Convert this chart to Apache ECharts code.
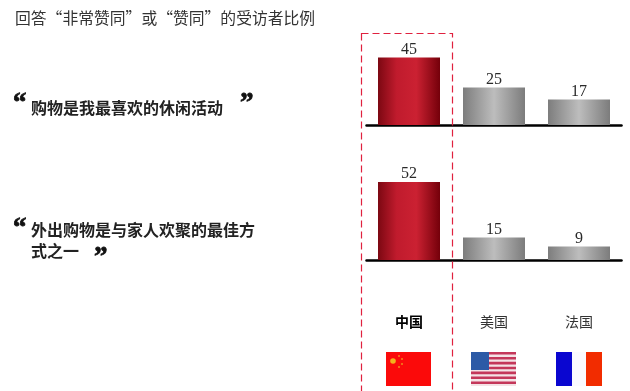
<!DOCTYPE html>
<html>
<head>
<meta charset="utf-8">
<style>html,body{margin:0;padding:0;background:#fff}#chart{width:630px;height:391px}</style>
<script src="https://cdn.jsdelivr.net/npm/echarts@6/dist/echarts.min.js"></script>
</head>
<body>
<div id="chart"></div>
<script>
// Survey answers by country, in percent
const countries = ['中国', '美国', '法国'];
const shoppingFavourite = [45, 25, 17];
const shoppingWithFamily = [52, 15, 9];

const titleText = '回答“非常赞同”或“赞同”的受访者比例';
const statementOne = '购物是我最喜欢的休闲活动';
const statementTwoLines = ['外出购物是与家人欢聚的最佳方', '式之一'];

const CJK = '"Noto Sans CJK SC", sans-serif';
const SERIF = '"Liberation Serif", serif';

const gradient = stops => new echarts.graphic.LinearGradient(0, 0, 1, 0,
  stops.map(([offset, color]) => ({ offset, color })));
const redFill = () => gradient([[0, '#7c0812'], [0.3, '#c01b2d'], [0.62, '#cb2132'], [1, '#74000a']]);
const greyFill = () => gradient([[0, '#7d7d7d'], [0.5, '#bdbdbd'], [1, '#7c7c7c']]);

const barData = values => values.map((value, i) => ({
  value,
  itemStyle: { color: i === 0 ? redFill() : greyFill() }
}));

const grids = [
  { left: 366.5, width: 255, top: 35, height: 90 },
  { left: 366.5, width: 255, top: 170, height: 90 }
];

const xAxis = [0, 1].map(gridIndex => ({
  type: 'category',
  gridIndex,
  data: countries.map((value, i) => ({
    value,
    textStyle: i === 0 ? { fontWeight: 'bold', color: '#000' } : { fontWeight: 'normal', color: '#333' }
  })),
  axisTick: { show: false },
  axisLine: { lineStyle: { color: '#000', width: 2.5 } },
  axisLabel: { show: gridIndex === 1, margin: 55, fontFamily: CJK, fontSize: 14 }
}));

const yAxis = [0, 1].map(gridIndex => ({
  type: 'value', gridIndex, min: 0, max: 60, show: false
}));

const series = [shoppingFavourite, shoppingWithFamily].map((values, i) => ({
  type: 'bar',
  xAxisIndex: i,
  yAxisIndex: i,
  barWidth: 62,
  silent: true,
  data: barData(values),
  label: {
    show: true, position: 'top', distance: 0,
    fontFamily: SERIF, fontSize: 16, color: '#2a2a2a'
  }
}));

const quoteText = (x, y, text) => ({
  type: 'text', x, y,
  style: {
    text, fontFamily: SERIF, fontWeight: 'bold', fontSize: 27, fill: '#111',
    stroke: '#111', lineWidth: 0.8, textVerticalAlign: 'top'
  }
});
const bodyText = (x, y, text) => ({
  type: 'text', x, y,
  style: { text, fontFamily: CJK, fontWeight: 'bold', fontSize: 16, fill: '#222', textVerticalAlign: 'middle' }
});

// Flags sit under the country names
const flagRect = (x, y, width, height, fill) => ({
  type: 'rect', shape: { x, y, width, height }, style: { fill }, silent: true
});
const chinaFlag = [
  flagRect(386, 352, 45, 34, '#fb0a0a'),
  { type: 'circle', shape: { cx: 393, cy: 361, r: 2.8 }, style: { fill: '#f2b21c' } },
  ...[[399, 356], [402, 359], [402, 364], [399, 367]].map(([cx, cy]) =>
    ({ type: 'circle', shape: { cx, cy, r: 1 }, style: { fill: '#f08a1a' } }))
];
const usFlag = [flagRect(471, 352, 45, 34, '#f4e3e6')];
for (let i = 0; i < 7; i++) {
  usFlag.push(flagRect(471, 352 + i * 4.9, 45, 2.6, '#c4375a'));
}
usFlag.push(flagRect(471, 352, 18, 18, '#2c5aa6'));
const franceFlag = [
  flagRect(556, 352, 16, 34, '#0a06d0'),
  flagRect(572, 352, 14, 34, '#fafaff'),
  flagRect(586, 352, 16, 34, '#f22c00')
];

const chart = echarts.init(document.getElementById('chart'));
chart.setOption({
  animation: false,
  backgroundColor: '#fff',
  grid: grids,
  xAxis,
  yAxis,
  series,
  graphic: [
    { type: 'text', x: 15, y: 18, style: { text: titleText, fontFamily: CJK, fontSize: 15.8, fill: '#333', textVerticalAlign: 'middle' } },
    quoteText(13, 91, '“'),
    bodyText(31, 108, statementOne),
    quoteText(240, 91, '”'),
    quoteText(13, 216, '“'),
    bodyText(31, 230, statementTwoLines[0]),
    bodyText(31, 251, statementTwoLines[1]),
    quoteText(94, 245, '”'),
    {
      type: 'rect', z: 10,
      shape: { x: 361.5, y: 33.5, width: 91, height: 380 },
      style: { fill: 'none', stroke: '#e0213f', lineWidth: 1.2, lineDash: [7, 4] }
    },
    ...chinaFlag, ...usFlag, ...franceFlag
  ]
});
</script>
</body>
</html>
